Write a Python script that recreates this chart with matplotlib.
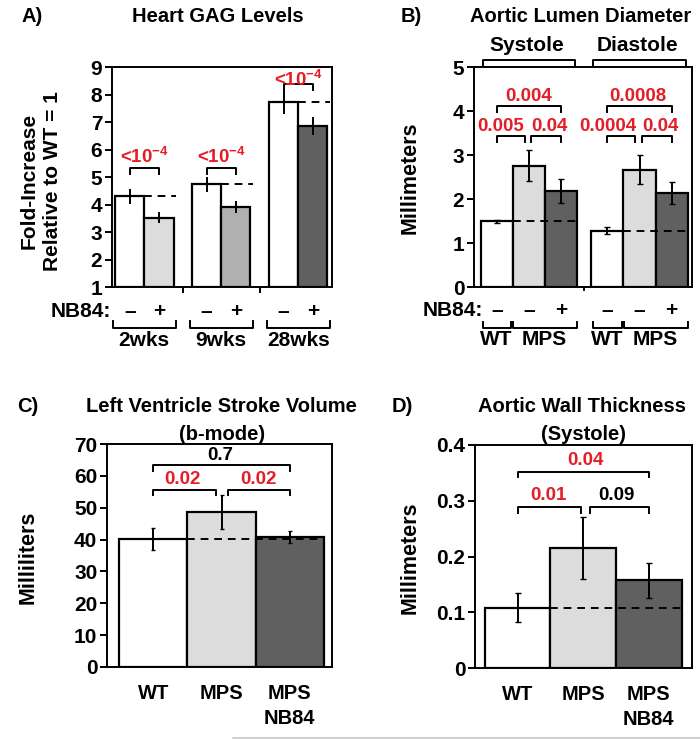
import matplotlib
matplotlib.use("Agg")
import matplotlib.pyplot as plt
from matplotlib.lines import Line2D

plt.rcParams['font.family'] = ['Liberation Sans', 'DejaVu Sans']
plt.rcParams['font.weight'] = 'bold'
plt.rcParams['mathtext.fontset'] = 'custom'
plt.rcParams['mathtext.rm'] = 'Liberation Sans:bold'
plt.rcParams['mathtext.bf'] = 'Liberation Sans:bold'
plt.rcParams['mathtext.default'] = 'bf'
plt.rcParams['axes.linewidth'] = 1.4

RED = '#e41e26'
LIGHT = '#dcdcdc'
MID = '#b0b0b0'
DARK = '#606060'

# A) heart GAG levels
gag_groups = ['2wks', '9wks', '28wks']
gag_untreated = [4.30, 4.73, 7.72]
gag_untreated_err = [0.27, 0.27, 0.42]
gag_treated = [3.52, 3.92, 6.86]
gag_treated_err = [0.20, 0.22, 0.33]
gag_p = ['<10$^{-4}$', '<10$^{-4}$', '<10$^{-4}$']

# B) aortic lumen diameter
phases = ['Systole', 'Diastole']
lumen_vals = [[1.49, 2.76, 2.18], [1.28, 2.67, 2.14]]
lumen_err = [[0.03, 0.36, 0.27], [0.08, 0.33, 0.25]]
lumen_p_left = ['0.005', '0.0004']
lumen_p_right = ['0.04', '0.04']
lumen_p_top = ['0.004', '0.0008']

# C) stroke volume
cats = ['WT', 'MPS', 'MPS\nNB84']
sv_vals = [40.2, 48.7, 40.8]
sv_err = [3.4, 5.4, 2.0]
sv_p = ['0.02', '0.02', '0.7']

# D) aortic wall thickness
wall_vals = [0.108, 0.215, 0.157]
wall_err = [0.026, 0.056, 0.032]
wall_p = ['0.01', '0.09', '0.04']

W, H = 700, 739
fig = plt.figure(figsize=(7, 7.39), dpi=100)


def fx(x):
    return x / W


def fy(y):
    return 1 - y / H


def bracket(ax, x0, x1, y, h, color='black', trans=None):
    kw = dict(color=color, lw=1.4, clip_on=False)
    if trans is not None:
        kw['transform'] = trans
    ax.plot([x0, x0, x1, x1], [y - h, y, y, y - h], **kw)


def style(ax):
    ax.tick_params(axis='y', labelsize=15, direction='out', length=5, width=1.4, pad=2)
    ax.tick_params(axis='x', labelsize=14.5, length=0, pad=12)


ebar = dict(ecolor='black', elinewidth=1.4)
blw = 1.6

# ---------------- A ----------------
axA = fig.add_axes([fx(112), fy(287), fx(220), 220 / H])
bw = 0.38
for i in range(3):
    xl, xr = i - 0.19, i + 0.19
    col = [LIGHT, MID, DARK][i]
    axA.bar(xl, gag_untreated[i] - 1, bw, bottom=1, color='white', edgecolor='black', lw=blw,
            yerr=gag_untreated_err[i], error_kw=ebar)
    axA.bar(xr, gag_treated[i] - 1, bw, bottom=1, color=col, edgecolor='black', lw=blw,
            yerr=gag_treated_err[i], error_kw=ebar)
    axA.plot([xl + bw / 2, xr + bw / 2 + 0.03], [gag_untreated[i]] * 2, 'k--', lw=1.4, dashes=(4, 3))
style(axA)
axA.set_ylim(1, 9)
axA.set_xlim(-0.42, 2.44)
axA.set_yticks(range(1, 10))
axA.set_xticks([0.5, 1.5])
axA.set_xticklabels([])
axA.tick_params(axis='x', length=4, width=1.4, direction='out')
br_y = [5.34, 5.34, 8.37]
lab_dy = [0.4, 0.4, 0.17]
for i in range(3):
    bracket(axA, i - 0.19, i + 0.19, br_y[i], 0.22)
    axA.text(i, br_y[i] + lab_dy[i], gag_p[i], color=RED, ha='center', va='center', fontsize=13.5)
tr = axA.get_xaxis_transform()
axA.text(-0.43, -0.11, 'NB84:', transform=tr, ha='right', va='center', fontsize=15)
for i in range(3):
    axA.text(i - 0.19, -0.11, '–', transform=tr, ha='center', va='center', fontsize=15)
    axA.text(i + 0.19, -0.11, '+', transform=tr, ha='center', va='center', fontsize=15)
    bracket(axA, i - 0.41, i + 0.41, -0.185, -0.03, trans=tr)
    axA.text(i, -0.245, gag_groups[i], transform=tr, ha='center', va='center', fontsize=15)
fig.text(fx(32), fy(16), 'A)', fontsize=14.5, ha='center', va='center')
fig.text(fx(218), fy(16), 'Heart GAG Levels', fontsize=14.5, ha='center', va='center')
fig.text(fx(41), fy(181), 'Fold-Increase\nRelative to WT = 1', rotation=90, fontsize=15,
         ha='center', va='center', linespacing=1.3)

# ---------------- B ----------------
axB = fig.add_axes([fx(474), fy(287), fx(218), 220 / H])
offs = [0, 3.46]
fills = ['white', LIGHT, DARK]
for g in range(2):
    xs = [offs[g] + k for k in range(3)]
    axB.bar(xs, lumen_vals[g], 1.0, color=fills, edgecolor='black', lw=blw,
            yerr=lumen_err[g], capsize=2, error_kw=ebar)
    axB.plot([xs[0] + 0.5, xs[2] + 0.5], [lumen_vals[g][0]] * 2, 'k--', lw=1.4, dashes=(4, 3))
    bracket(axB, xs[0], xs[1] - 0.13, 3.43, 0.13)
    bracket(axB, xs[1] + 0.08, xs[2], 3.43, 0.13)
    bracket(axB, xs[0], xs[2], 4.11, 0.13)
style(axB)
axB.set_ylim(0, 5)
axB.set_xlim(-0.71, 6.1)
axB.set_yticks(range(6))
axB.set_xticks([2.73])
axB.set_xticklabels([])
axB.tick_params(axis='x', length=3, width=1.4, direction='out')
for g, xl, xr, xt in [(0, 0.12, 1.64, 1.01), (1, 3.46, 5.1, 4.4)]:
    axB.text(xl, 3.64, lumen_p_left[g], color=RED, ha='center', va='center', fontsize=13.5)
    axB.text(xr, 3.64, lumen_p_right[g], color=RED, ha='center', va='center', fontsize=13.5)
    axB.text(xt, 4.32, lumen_p_top[g], color=RED, ha='center', va='center', fontsize=13.5)
trB = axB.get_xaxis_transform()
axB.text(-0.42, -0.105, 'NB84:', transform=trB, ha='right', va='center', fontsize=15)
for g in range(2):
    o = offs[g]
    for k, s in enumerate(['–', '–', '+']):
        axB.text(o + k, -0.105, s, transform=trB, ha='center', va='center', fontsize=15)
    bracket(axB, o - 0.44, o + 0.44, -0.186, -0.027, trans=trB)
    bracket(axB, o + 0.52, o + 2.5, -0.186, -0.027, trans=trB)
    axB.text(o, -0.24, 'WT', transform=trB, ha='center', va='center', fontsize=15)
    axB.text(o + 1.5, -0.24, 'MPS', transform=trB, ha='center', va='center', fontsize=15)
    bracket(axB, o - 0.44, o + 2.44, 1.032, 0.022, trans=trB)
    axB.text(o + 0.95, 1.10, phases[g], transform=trB, ha='center', va='center', fontsize=15)
fig.text(fx(411), fy(16), 'B)', fontsize=14.5, ha='center', va='center')
fig.text(fx(581), fy(16), 'Aortic Lumen Diameter', fontsize=14.5, ha='center', va='center')
fig.text(fx(410), fy(178), 'Millimeters', rotation=90, fontsize=15.5, ha='center', va='center')

# ---------------- C ----------------
axC = fig.add_axes([fx(107), fy(667), fx(225), 223 / H])
axC.bar(range(3), sv_vals, 1.0, color=fills, edgecolor='black', lw=blw,
        yerr=sv_err, capsize=1.5, error_kw=ebar)
axC.plot([0.5, 2.5], [sv_vals[0]] * 2, 'k--', lw=1.4, dashes=(4, 3))
style(axC)
axC.set_ylim(0, 70)
axC.set_xlim(-0.68, 2.62)
axC.set_yticks(range(0, 71, 10))
axC.set_xticks(range(3))
axC.set_xticklabels(cats, linespacing=1.45)
bracket(axC, 0, 0.92, 55.7, 1.6)
bracket(axC, 1.09, 2, 55.7, 1.6)
bracket(axC, 0, 2, 63.5, 2.1)
axC.text(0.43, 59.0, sv_p[0], color=RED, ha='center', va='center', fontsize=13.5)
axC.text(1.54, 59.0, sv_p[1], color=RED, ha='center', va='center', fontsize=13.5)
axC.text(0.98, 66.3, sv_p[2], color='black', ha='center', va='center', fontsize=13.5)
fig.text(fx(28), fy(407), 'C)', fontsize=14.5, ha='center', va='center')
fig.text(fx(221), fy(407), 'Left Ventricle Stroke Volume', fontsize=14.5, ha='center', va='center')
fig.text(fx(222), fy(435), '(b-mode)', fontsize=14.5, ha='center', va='center')
fig.text(fx(28), fy(557), 'Milliliters', rotation=90, fontsize=15.5, ha='center', va='center')

# ---------------- D ----------------
axD = fig.add_axes([fx(475), fy(668), fx(217), 223 / H])
axD.bar(range(3), wall_vals, 1.0, color=fills, edgecolor='black', lw=blw,
        yerr=wall_err, capsize=2, error_kw=ebar)
axD.plot([0.5, 2.5], [wall_vals[0]] * 2, 'k--', lw=1.4, dashes=(4, 3))
style(axD)
axD.set_ylim(0, 0.4)
axD.set_xlim(-0.65, 2.66)
axD.set_yticks([0, 0.1, 0.2, 0.3, 0.4])
axD.set_yticklabels(['0', '0.1', '0.2', '0.3', '0.4'])
axD.set_xticks(range(3))
axD.set_xticklabels(cats, linespacing=1.45)
bracket(axD, 0, 0.96, 0.288, 0.01)
bracket(axD, 1.1, 2, 0.288, 0.01)
bracket(axD, 0, 2, 0.352, 0.01)
axD.text(0.47, 0.31, wall_p[0], color=RED, ha='center', va='center', fontsize=13.5)
axD.text(1.51, 0.31, wall_p[1], color='black', ha='center', va='center', fontsize=13.5)
axD.text(1.03, 0.372, wall_p[2], color=RED, ha='center', va='center', fontsize=13.5)
fig.text(fx(402), fy(407), 'D)', fontsize=14.5, ha='center', va='center')
fig.text(fx(582), fy(407), 'Aortic Wall Thickness', fontsize=14.5, ha='center', va='center')
fig.text(fx(583), fy(435), '(Systole)', fontsize=14.5, ha='center', va='center')
fig.text(fx(410), fy(558), 'Millimeters', rotation=90, fontsize=15.5, ha='center', va='center')

fig.add_artist(Line2D([fx(233), 1], [fy(737.5)] * 2, color='#c8c8c8', lw=1.2))

fig.savefig('out.png', dpi=100)
